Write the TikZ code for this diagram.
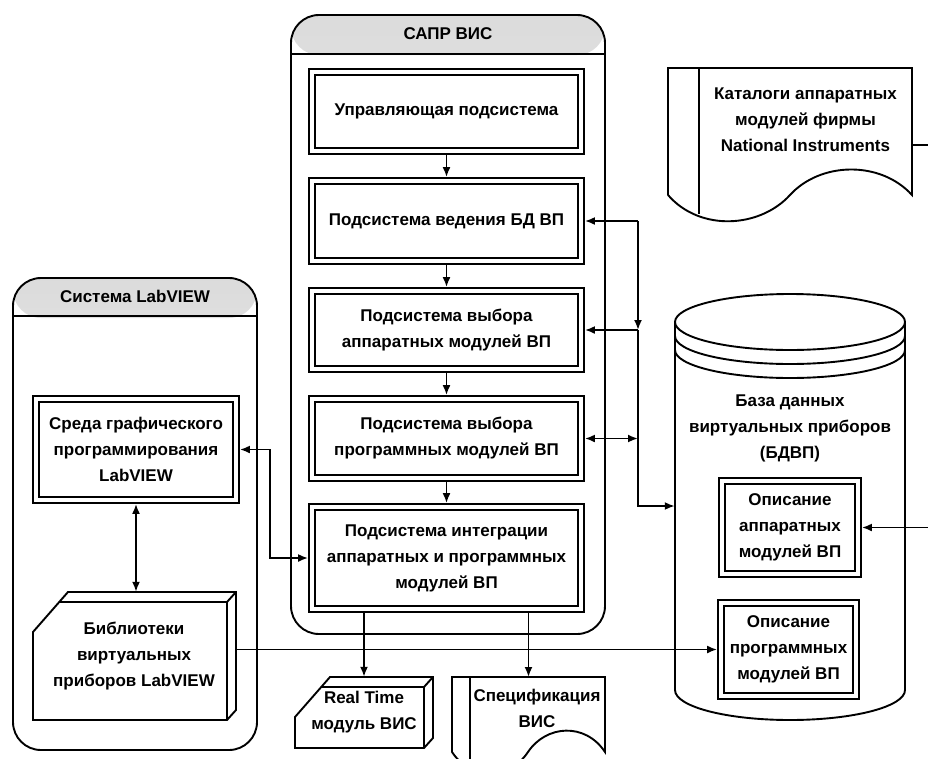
\documentclass[tikz,border=0pt]{standalone}
\usepackage{fontspec}
\setmainfont{Liberation Sans}
\usetikzlibrary{arrows.meta}

\begin{document}
\begin{tikzpicture}[x=1pt,y=-1pt,
    every node/.style={font=\fontsize{17}{26}\selectfont\bfseries, align=center},
    ln/.style={line width=1.9pt},
    arr/.style={ln, -{Latex[length=10pt,width=8pt]}},
    darr/.style={ln, {Latex[length=10pt,width=8pt]}-{Latex[length=10pt,width=8pt]}},
    dbox/.style 2 args={draw, line width=2pt, double, double distance=3.8pt, fill=white,
        minimum width=#1pt, minimum height=#2pt, inner sep=0pt, outer sep=3.9pt},
    cont/.style={draw, ln, rounded corners=28pt,
        path picture={\shade[top color=gray!28, bottom color=white]
            (path picture bounding box.north west) rectangle ([yshift=-40pt]path picture bounding box.north east);}},
    pics/slab/.style args={#1/#2}{code={
        \draw[ln, fill=white] (0,40) -- (35,0) -- (#1+9,0) -- (#1+9,#2-10) -- (#1,#2) -- (0,#2) -- cycle
            (26,10) -- (#1,10) -- (#1+9,0) (#1,10) -- (#1,#2);
    }}
]
\useasboundingbox (0,0) rectangle (928,758);

\node[cont, minimum width=314pt, minimum height=619pt] (sapr) at (448,324.5) {};
\draw[ln] ([yshift=-40pt]sapr.north west) -- ([yshift=-40pt]sapr.north east);
\node (saprt) at ([yshift=-20pt]sapr.north) {САПР ВИС};

\node[cont, minimum width=244pt, minimum height=472pt] (lv) at (135,514) {};
\draw[ln] ([yshift=-39pt]lv.north west) -- ([yshift=-39pt]lv.north east);
\node (lvt) at ([yshift=-19.5pt]lv.north) {Система LabVIEW};

\foreach \nm/\yy/\hh/\txt in {b1/111.5/79/{Управляющая подсистема},
    b2/221/80/{Подсистема ведения БД ВП},
    b3/330/78/{Подсистема выбора\\аппаратных модулей ВП},
    b4/438.5/79/{Подсистема выбора\\программных модулей ВП},
    b5/558/102/{Подсистема интеграции\\аппаратных и программных\\модулей ВП}}
    \node[dbox={269}{\hh}] (\nm) at (446.5,\yy) {\txt};
\foreach \a/\b in {b1/b2,b2/b3,b3/b4,b4/b5}
    \draw[arr] (\a) -- (\b);

\node[dbox={200}{101}] (sreda) at (136,449.5) {Среда графического\\программирования\\LabVIEW};
\pic at (33,592) {slab=194/128};
\node[minimum width=202pt, minimum height=128pt] (lib) at (134,656) {Библиотеки\\виртуальных\\приборов LabVIEW};
\draw[darr] (sreda.south) -- (sreda.south |- lib.north);
\draw[darr] (sreda.east) -- ++(30,0) |- (b5.west);

\pic at (295,677) {slab=129/71};
\node[minimum width=138pt, minimum height=71pt] (rt) at (364,712.5) {Real Time\\модуль ВИС};
\draw[arr] (b5.south -| rt.north) -- (rt.north);

\draw[ln, fill=white] (452,752) -- (452,677) -- (605,677) -- (605,752)
    .. controls (585,722) and (546,725) .. (528,752) .. controls (510,779) and (472,782) .. (452,752);
\draw[ln] (470,677) -- (470,775);
\node (spec) at (537,708) {Спецификация\\ВИС};
\coordinate (specin) at (528.5,677);
\draw[arr] (b5.south -| specin) -- (specin);

\draw[ln, fill=white] (668,195) -- (668,68) -- (912,68) -- (912,195)
    .. controls (880,160) and (820,162) .. (790,195) .. controls (760,228) and (700,232) .. (668,195);
\draw[ln] (699,68) -- (699,214);
\node[minimum width=213pt] (cat) at (805.5,120) {Каталоги аппаратных\\модулей фирмы\\National Instruments};

\draw[ln, fill=white] (675,322) -- (675,690) arc[start angle=180, end angle=360, x radius=115pt, y radius=30pt] -- (905,322);
\draw[ln] (790,322) ellipse [x radius=115pt, y radius=28pt];
\draw[ln] (675,336) arc[start angle=180, end angle=360, x radius=115pt, y radius=28pt];
\draw[ln] (675,350) arc[start angle=180, end angle=360, x radius=115pt, y radius=28pt];
\node (dbt) at (790,428) {База данных\\виртуальных приборов\\(БДВП)};
\node[minimum width=230pt, minimum height=370pt] (dbv) at (790,506) {};

\node[dbox={136}{93}] (op1) at (790,527.5) {Описание\\аппаратных\\модулей ВП};
\node[dbox={135}{93}] (op2) at (788.5,649.5) {Описание\\программных\\модулей ВП};

\coordinate (bus) at (638,222);
\draw[arr] (bus |- b2.east) -- (b2.east);
\draw[arr] (bus |- b2.east) -- (bus |- b3.east);
\draw[arr] (bus |- b3.east) -- (b3.east);
\draw[darr] (b4.east) -- (bus |- b4.east);
\draw[arr] (bus |- b3.east) |- (dbv.west);

\draw[arr] ([yshift=-25pt]cat.east) -- ++(20,0) |- (op1.east);
\draw[arr] (lib.east |- op2.west) -- (op2.west);
\end{tikzpicture}
\end{document}
